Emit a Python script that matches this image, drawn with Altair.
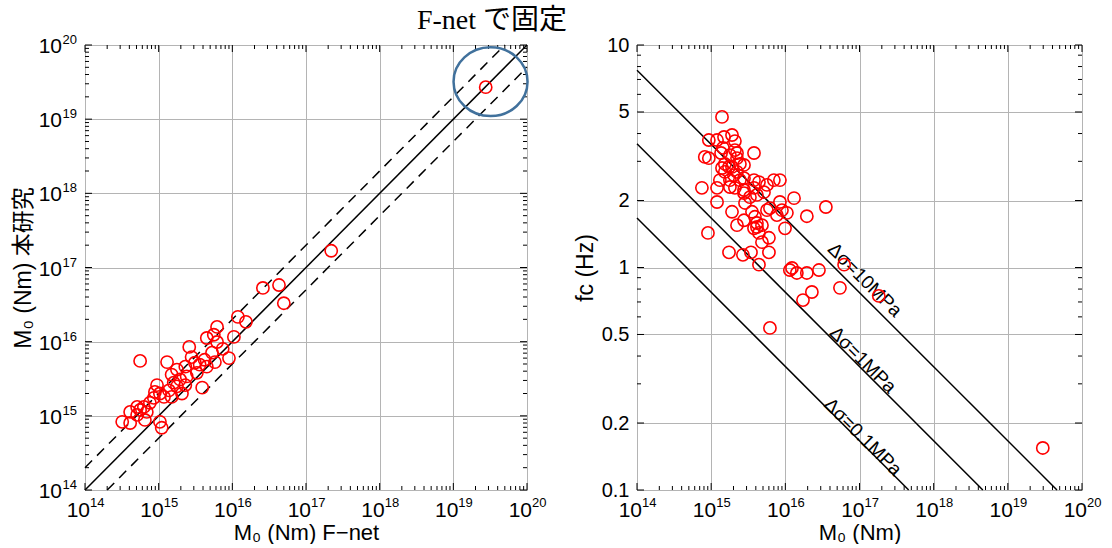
import altair as alt
import pandas as pd

# ---------------- data ----------------
# left panel: M0 from F-net (x) vs M0 of this study (y)
fnet_m0 = [5.6e14, 2.75e19, 2.6e16, 4.3e16, 5.0e16, 2.2e17, 1.19e16, 1.53e16, 6.2e15, 4.5e15,
           5.6e15, 6.2e15, 1.05e16, 2.6e15, 9.0e15, 5.8e15, 4.2e15, 3.6e15, 2.8e15, 1.3e15,
           1.77e15, 2.3e15, 3.1e15, 5.3e15, 4.5e15, 3.3e15, 2.4e15, 1.95e15, 1.6e15, 9.5e14,
           8.9e14, 1.04e15, 1.18e15, 8.6e14, 7.6e14, 6.3e14, 5.1e14, 5.6e14, 6.9e14, 4.1e14,
           5.1e14, 3.2e14, 4.1e14, 6.5e14, 1.04e15, 1.1e15, 2.07e15, 1.5e15, 1.77e15, 2.3e15,
           1.38e15, 3.9e15, 7.4e15, 1.5e15]
this_m0 = [5.5e15, 2.7e19, 5.3e16, 5.8e16, 3.3e16, 1.68e17, 2.16e16, 1.85e16, 1.58e16, 1.12e16,
           1.24e16, 9.9e15, 1.16e16, 8.5e15, 6.0e15, 5.3e15, 5.7e15, 4.9e15, 6.2e15, 5.3e15,
           4.2e15, 4.6e15, 5.2e15, 7.1e15, 4.6e15, 3.8e15, 3.4e15, 3.1e15, 2.8e15, 2.6e15,
           2.1e15, 2.0e15, 1.8e15, 1.75e15, 1.5e15, 1.32e15, 1.32e15, 1.2e15, 1.13e15, 1.13e15,
           1.03e15, 8.3e14, 8.0e14, 8.8e14, 8.3e14, 6.9e14, 2.0e15, 1.8e15, 2.5e15, 2.6e15,
           2.2e15, 2.4e15, 8.0e15, 3.6e15]

# right panel: M0 vs corner frequency
m0_nm = [1.40e15, 9.3e14, 1.2e15, 1.49e15, 1.91e15, 2.09e15, 8.2e14, 9.3e14, 3.78e15, 2.23e15,
         1.79e15, 1.36e15, 1.53e15, 2.44e15, 1.91e15, 1.40e15, 1.53e15, 2.23e15, 7.5e14, 1.2e15,
         1.31e15, 1.79e15, 2.44e15, 3.78e15, 2.09e15, 2.77e15, 3.78e15, 5.15e15, 5.65e15, 7.0e15,
         8.45e15, 4.14e15, 3.33e15, 1.2e15, 1.91e15, 2.86e15, 6.2e15, 8.45e15, 1.31e16, 7.7e15,
         1.05e16, 3.89e15, 4.14e15, 4.84e15, 3.78e15, 2.77e15, 2.23e15, 4.41e15, 4.84e15, 6.01e15,
         9.9e15, 1.95e16, 3.52e16, 9.05e14, 1.74e15, 2.68e15, 3.44e15, 6.01e15, 4.41e15, 1.23e16,
         1.43e16, 1.95e16, 2.84e16, 2.28e16, 1.73e16, 5.45e16, 6.2e16, 6.2e15, 1.82e17, 2.96e19,
         1.44e15, 2.09e15, 2.23e15, 1.74e15, 2.77e15, 2.03e15, 2.77e15, 4.41e15, 1.79e15, 2.77e15,
         3.55e15, 5.65e15, 9.0e15, 1.15e16, 4.14e15]
fc_hz = [4.75, 3.74, 3.74, 3.86, 3.94, 3.70, 3.14, 3.10, 3.27, 3.27,
         3.20, 3.27, 2.92, 2.92, 2.83, 2.80, 2.69, 2.69, 2.28, 2.28,
         2.47, 2.47, 2.47, 2.47, 2.28, 2.16, 2.28, 2.18, 2.35, 2.47,
         2.47, 2.12, 2.07, 1.97, 1.78, 1.95, 1.85, 1.97, 2.05, 1.72,
         1.76, 1.69, 1.585, 1.55, 1.50, 1.63, 1.55, 1.43, 1.30, 1.36,
         1.50, 1.70, 1.87, 1.43, 1.17, 1.14, 1.17, 1.17, 1.03, 0.995,
         0.945, 0.945, 0.974, 0.776, 0.714, 0.81, 1.03, 0.535, 0.745, 0.1545,
         3.45, 3.37, 3.10, 2.83, 2.89, 2.60, 2.52, 2.42, 2.30, 2.23,
         1.78, 1.81, 1.81, 0.974, 1.52]

# reference lines (left): 1:1 and factor-2 bounds
ref_x_solid = [1e14, 1e20]
ref_y_solid = [1e14, 1e20]
ref_grp_dash = ["up", "up", "lo", "lo"]
ref_x_dash = [1e14, 5e19, 2e14, 1e20]
ref_y_dash = [2e14, 1e20, 1e14, 5e19]

# stress-drop lines (right): endpoints
sd_grp = ["10", "10", "1", "1", "0.1", "0.1"]
sd_m0 = [1e14, 4.6e19, 1e14, 4.6e18, 1e14, 4.6e17]
sd_fc = [7.7, 0.1, 3.6, 0.1, 1.67, 0.1]
sd_label = ["Δσ=10MPa", "Δσ=1MPa", "Δσ=0.1MPa"]
sd_label_m0 = [1.18e17, 1.11e17, 1.11e17]
sd_label_fc = [0.879, 0.384, 0.173]

# highlighted event
hl_x = [3.2e19]
hl_y = [3.2e19]

# axis ticks and tick labels
decades = [1e14, 1e15, 1e16, 1e17, 1e18, 1e19, 1e20]
dec_exp = ["14", "15", "16", "17", "18", "19", "20"]
minor_mant = [2, 3, 4, 5, 6, 7, 8, 9]
minor_dec = [1e14, 1e15, 1e16, 1e17, 1e18, 1e19]
minor_log = [m * d for d in minor_dec for m in minor_mant]
fc_major = [0.1, 0.2, 0.5, 1, 2, 5, 10]
fc_minor = [0.3, 0.4, 0.6, 0.7, 0.8, 0.9, 3, 4, 6, 7, 8, 9]

# ---------------- styling ----------------
SANS = "Liberation Sans, Arial, Noto Sans CJK JP"
W1, W2, H = 442, 445, 445
MAJ, MIN = 7, 4
LAB, EXP = 21, 13


def make_axis(values, title, labels=False, fmt=None, tpad=4, tsize=23):
    kw = dict(values=values, grid=True, gridColor="#b4b4b4", gridWidth=1, ticks=False,
              domain=False, labels=labels, labelFontSize=20, labelFont=SANS,
              labelColor="black", labelPadding=8, labelFlush=False, labelOverlap=False,
              title=title, titleFontSize=tsize, titleFont=SANS, titleFontWeight="normal",
              titleColor="black", titlePadding=tpad)
    if fmt:
        kw["format"] = fmt
    return alt.Axis(**kw)


def tick_layers(xvals_maj, xvals_min, yvals_maj, yvals_min, xs, ys, xa, ya, W):
    layers = []
    for vals, ln in ((xvals_maj, MAJ), (xvals_min, MIN)):
        df = pd.DataFrame({"v": vals})
        base = alt.Chart(df).mark_rule(color="black", strokeWidth=1)
        layers.append(base.encode(x=alt.X("v:Q", scale=xs, axis=xa),
                                  y=alt.value(H), y2=alt.value(H - ln)))
        layers.append(base.encode(x=alt.X("v:Q", scale=xs, axis=xa),
                                  y=alt.value(0), y2=alt.value(ln)))
    for vals, ln in ((yvals_maj, MAJ), (yvals_min, MIN)):
        df = pd.DataFrame({"v": vals})
        base = alt.Chart(df).mark_rule(color="black", strokeWidth=1)
        layers.append(base.encode(y=alt.Y("v:Q", scale=ys, axis=ya),
                                  x=alt.value(0), x2=alt.value(ln)))
        layers.append(base.encode(y=alt.Y("v:Q", scale=ys, axis=ya),
                                  x=alt.value(W), x2=alt.value(W - ln)))
    return layers


def x_decade_labels(xs, xa):
    df = pd.DataFrame({"v": decades, "e": dec_exp})
    ten = alt.Chart(df).mark_text(text="10", font=SANS, fontSize=LAB, color="black",
                                  align="right", dx=5, baseline="alphabetic").encode(
        x=alt.X("v:Q", scale=xs, axis=xa), y=alt.value(H + 27))
    ex = alt.Chart(df).mark_text(font=SANS, fontSize=EXP, color="black",
                                 align="left", dx=5, baseline="alphabetic").encode(
        x=alt.X("v:Q", scale=xs, axis=xa), y=alt.value(H + 17), text="e:N")
    return [ten, ex]


def y_decade_labels(ys, ya):
    df = pd.DataFrame({"v": decades, "e": dec_exp})
    ten = alt.Chart(df).mark_text(text="10", font=SANS, fontSize=LAB, color="black",
                                  align="right", dy=8, baseline="alphabetic").encode(
        y=alt.Y("v:Q", scale=ys, axis=ya), x=alt.value(-23))
    ex = alt.Chart(df).mark_text(font=SANS, fontSize=EXP, color="black",
                                 align="right", dy=-1, baseline="alphabetic").encode(
        y=alt.Y("v:Q", scale=ys, axis=ya), x=alt.value(-8), text="e:N")
    return [ten, ex]


# ---------------- left panel ----------------
xsL = alt.Scale(type="log", domain=[1e14, 1e20], nice=False)
ysL = alt.Scale(type="log", domain=[1e14, 1e20], nice=False)
xaL = make_axis(decades, "M₀ (Nm)  F−net", tpad=32, tsize=22)
yaL = make_axis(decades, "M₀ (Nm)  本研究", tpad=50)

solid_df = pd.DataFrame({"x": ref_x_solid, "y": ref_y_solid})
dash_df = pd.DataFrame({"g": ref_grp_dash, "x": ref_x_dash, "y": ref_y_dash})
ptsL = pd.DataFrame({"x": fnet_m0, "y": this_m0})
hl_df = pd.DataFrame({"x": hl_x, "y": hl_y})

solidL = alt.Chart(solid_df).mark_line(color="black", strokeWidth=1.5).encode(
    x=alt.X("x:Q", scale=xsL, axis=xaL), y=alt.Y("y:Q", scale=ysL, axis=yaL))
dashL = alt.Chart(dash_df).mark_line(color="black", strokeWidth=1.5, strokeDash=[10, 7]).encode(
    x=alt.X("x:Q", scale=xsL, axis=xaL), y=alt.Y("y:Q", scale=ysL, axis=yaL), detail="g:N")
pointsL = alt.Chart(ptsL).mark_point(shape="circle", filled=False, color="red", size=150,
                                     strokeWidth=1.6, opacity=1).encode(
    x=alt.X("x:Q", scale=xsL, axis=xaL), y=alt.Y("y:Q", scale=ysL, axis=yaL))
ellipse = alt.Chart(hl_df).mark_point(
    shape="M -1 0 A 1 0.93 0 1 1 1 0 A 1 0.93 0 1 1 -1 0 Z", filled=False,
    color="#41719c", size=5476, strokeWidth=2.5, opacity=1).encode(
    x=alt.X("x:Q", scale=xsL, axis=xaL), y=alt.Y("y:Q", scale=ysL, axis=yaL))
title_txt = alt.Chart(hl_df).mark_text(
    text="F-net で固定", font="Liberation Serif, Noto Sans CJK JP", fontSize=28,
    color="black", align="center", baseline="middle").encode(
    x=alt.value(407), y=alt.value(-24))

left = alt.layer(
    *tick_layers(decades, minor_log, decades, minor_log, xsL, ysL, xaL, yaL, W1),
    *x_decade_labels(xsL, xaL), *y_decade_labels(ysL, yaL),
    solidL, dashL, pointsL, ellipse, title_txt
).properties(width=W1, height=H)

# ---------------- right panel ----------------
xsR = alt.Scale(type="log", domain=[1e14, 1e20], nice=False)
ysR = alt.Scale(type="log", domain=[0.1, 10], nice=False)
xaR = make_axis(decades, "M₀ (Nm)", tpad=32, tsize=22)
yaR = make_axis(fc_major, "fc (Hz)", labels=True, fmt="~g", tpad=4)

sd_df = pd.DataFrame({"g": sd_grp, "x": sd_m0, "y": sd_fc})
lab_df = pd.DataFrame({"t": sd_label, "x": sd_label_m0, "y": sd_label_fc})
ptsR = pd.DataFrame({"x": m0_nm, "y": fc_hz})

linesR = alt.Chart(sd_df).mark_line(color="black", strokeWidth=1.5).encode(
    x=alt.X("x:Q", scale=xsR, axis=xaR), y=alt.Y("y:Q", scale=ysR, axis=yaR), detail="g:N")
labelsR = alt.Chart(lab_df).mark_text(font=SANS, fontSize=19, angle=45, color="black",
                                      align="center", baseline="middle").encode(
    x=alt.X("x:Q", scale=xsR, axis=xaR), y=alt.Y("y:Q", scale=ysR, axis=yaR), text="t:N")
pointsR = alt.Chart(ptsR).mark_point(shape="circle", filled=False, color="red", size=150,
                                     strokeWidth=1.6, opacity=1).encode(
    x=alt.X("x:Q", scale=xsR, axis=xaR), y=alt.Y("y:Q", scale=ysR, axis=yaR))

right = alt.layer(
    *tick_layers(decades, minor_log, fc_major, fc_minor, xsR, ysR, xaR, yaR, W2),
    *x_decade_labels(xsR, xaR),
    linesR, labelsR, pointsR
).properties(width=W2, height=H)

chart = alt.hconcat(left, right, spacing=110, bounds="flush").properties(
    padding={"left": 11, "top": 6, "right": 5, "bottom": 0}
).configure_view(stroke="black", strokeWidth=1.5).configure(background="white")

chart.save("out.html", embed_options={"renderer": "svg", "actions": False})
